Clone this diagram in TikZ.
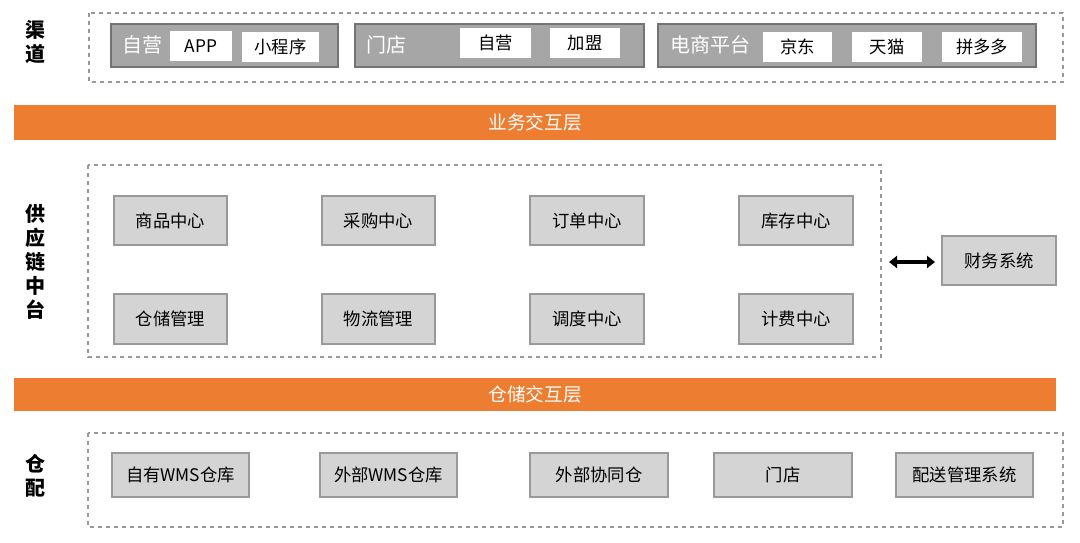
\documentclass[tikz,border=0pt]{standalone}
\usepackage{fontspec}
\setmainfont{Noto Sans CJK SC}
\usetikzlibrary{arrows.meta}
\definecolor{barorange}{HTML}{ED7D31}
\definecolor{groupgray}{HTML}{A6A6A6}
\definecolor{boxgray}{HTML}{D4D4D4}
\tikzset{
  frame/.style={draw=gray!80,dashed,thick},
  group/.style={draw=gray!90!black,fill=groupgray,thick},
  chip/.style={fill=white,font=\fontsize{13}{13}\selectfont},
  module/.style={draw=gray!80,fill=boxgray,thick,font=\fontsize{13}{13}\selectfont},
  bar/.style={fill=barorange,text=white,font=\fontsize{14}{14}\selectfont},
  side/.style={font=\bfseries\fontsize{15}{18}\selectfont,align=center}
}
\newcommand{\modbox}[5]{%
  \node[module,minimum width=#3*0.75pt,minimum height=#4*0.75pt] (#1) at (#2) {#5};
}
\begin{document}
\begin{tikzpicture}[x=0.75pt,y=-0.75pt]
\useasboundingbox (0,0) rectangle (1080,542);

% channel layer
\draw[frame] (89,13) rectangle (1063,82);
\draw[group] (111,24) rectangle (338,67);
\draw[group] (355,24) rectangle (644,67);
\draw[group] (658,24) rectangle (1036,67);
\node[text=white,font=\fontsize{15}{15}\selectfont] (g1) at (142,45) {自营};
\node[text=white,font=\fontsize{15}{15}\selectfont] (g2) at (386,45) {门店};
\node[text=white,font=\fontsize{15}{15}\selectfont] (g3) at (710,45) {电商平台};
\node[chip,minimum width=46.5pt,minimum height=22.5pt] (app) at (201,46) {APP};
\node[chip,minimum width=57.75pt,minimum height=22.5pt] (mini) at (280.5,47) {小程序};
\node[chip,minimum width=53.25pt,minimum height=22.5pt] (own) at (495.5,43) {自营};
\node[chip,minimum width=52.5pt,minimum height=22.5pt] (join) at (585,43) {加盟};
\node[chip,minimum width=51.75pt,minimum height=22.5pt] (jd) at (797.5,47) {京东};
\node[chip,minimum width=52.5pt,minimum height=22.5pt] (tm) at (887,47) {天猫};
\node[chip,minimum width=60pt,minimum height=22.5pt] (pdd) at (982,47) {拼多多};

\node[side] (lch) at (35,42) {渠\\道};

% business bar
\node[bar,minimum width=781.5pt,minimum height=26.25pt] (biz) at (535,122.5) {业务交互层};

% supply chain middle platform
\draw[frame] (88,165) rectangle (881,357);
\node[side] (lsc) at (35,262) {供\\应\\链\\中\\台};
\modbox{goods}{170.5,220.5}{113}{49}{商品中心}
\modbox{buy}{378.5,220.5}{113}{49}{采购中心}
\modbox{order}{587,220.5}{114}{49}{订单中心}
\modbox{stock}{796,220.5}{114}{49}{库存中心}
\modbox{store}{170.5,319}{113}{50}{仓储管理}
\modbox{logi}{378.5,319}{113}{50}{物流管理}
\modbox{sched}{587,319}{114}{50}{调度中心}
\modbox{fee}{796,319}{114}{50}{计费中心}
\modbox{fin}{999,260.5}{114}{49}{财务系统}
\coordinate (al) at (889,262);
\coordinate (ar) at (935,262);
\draw[line width=3pt,{Triangle[length=6pt,width=9pt]}-{Triangle[length=6pt,width=9pt]}] (al) -- (ar);

% warehouse bar
\node[bar,minimum width=781.5pt,minimum height=24.75pt] (wh) at (535,394.5) {仓储交互层};

% warehouse and distribution
\draw[frame] (88,433) rectangle (1063,527);
\node[side] (lwd) at (35,476) {仓\\配};
\modbox{w1}{180.5,475}{137}{44}{自有WMS仓库}
\modbox{w2}{388.5,475}{137}{44}{外部WMS仓库}
\modbox{w3}{599,475}{138}{44}{外部协同仓}
\modbox{w4}{783,475}{138}{44}{门店}
\modbox{w5}{964.5,475}{137}{44}{配送管理系统}
\end{tikzpicture}
\end{document}
